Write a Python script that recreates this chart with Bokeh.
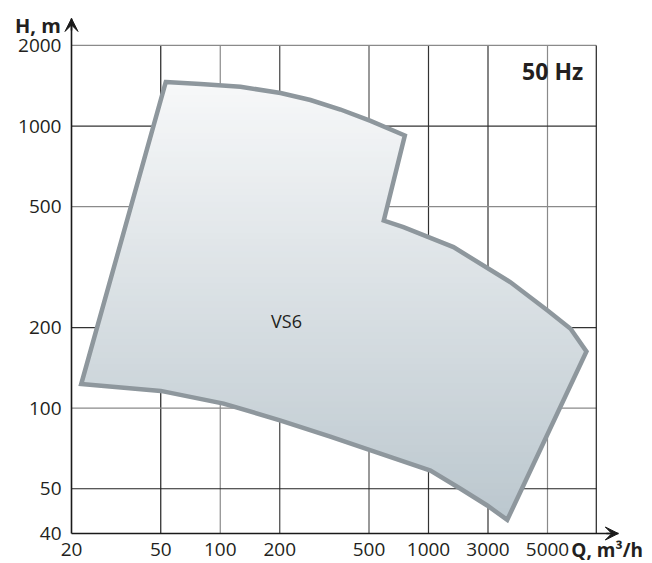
import numpy as np
from bokeh.plotting import figure
from bokeh.models import FixedTicker, Range1d, Label, Arrow, VeeHead, CustomJSTickFormatter
from bokeh.embed import file_html
from bokeh.resources import INLINE

# ---------------- data ----------------
Q_TICKS = [20, 50, 100, 200, 500, 1000, 3000, 5000]
Q_TICK_LABELS = ["20", "50", "100", "200", "500", "1000", "3000", "5000"]
H_TICKS = [40, 50, 100, 200, 500, 1000, 2000]
H_TICK_LABELS = ["40", "50", "100", "200", "500", "1000", "2000"]

# outline of the VS6 performance range (Q in m3/h, H in m), clockwise from top-left
VS6_Q = [53, 79.4, 126.6, 201.6, 274, 373, 509, 759, 594, 747, 1586, 3640, 4990, 6095, 6985,
         3538, 2958, 1806, 1037, 571, 336, 202, 104, 50, 22.1]
VS6_H = [1460, 1436, 1402, 1329, 1251, 1153, 1045, 922, 450, 428, 368, 282, 228, 198, 163,
         42.8, 46.0, 50, 58.5, 67.7, 78.3, 89.9, 104, 116, 123]
MODEL = "VS6"
FREQ = "50 Hz"
X_TITLE = "Q, m³/h"
Y_TITLE = "H, m"

# ---------------- layout (chart uses a non-uniform log grid) ----------------
Q_TICK_POS = [0, 1.5, 2.5, 3.5, 5, 6, 7, 8]
H_TICK_POS = [0, 0.555, 1.555, 2.555, 4.055, 5.055, 6.055]
X_EDGE = 8.82      # right border of the grid box
Y_EDGE = 6.055     # top border of the grid box (2000 m)
X_ARROW = 9.19
Y_ARROW = 6.39
W, H = 652, 563
X0_PX, Y0_PX, UX, UY = 71, 533, 59.5, 80.6


def scale_pos(vals, ticks, pos):
    lt = np.log10(np.asarray(ticks, float))
    pos = np.asarray(pos, float)
    lv = np.log10(np.asarray(vals, float))
    out = np.interp(lv, lt, pos)
    hi = lv > lt[-1]
    s_hi = (pos[-1] - pos[-2]) / (lt[-1] - lt[-2])
    out[hi] = pos[-1] + (lv[hi] - lt[-1]) * s_hi
    lo = lv < lt[0]
    s_lo = (pos[1] - pos[0]) / (lt[1] - lt[0])
    out[lo] = pos[0] + (lv[lo] - lt[0]) * s_lo
    return out


xs = scale_pos(VS6_Q, Q_TICKS, Q_TICK_POS)
ys = scale_pos(VS6_H, H_TICKS, H_TICK_POS)
poly = list(zip(xs, ys))


def clip_half(pts, inside, c):
    out = []
    n = len(pts)
    for i in range(n):
        cur = pts[i]
        prev = pts[i - 1]
        ci, pi = inside(cur), inside(prev)
        if ci:
            if not pi:
                t = (c - prev[1]) / (cur[1] - prev[1])
                out.append((prev[0] + t * (cur[0] - prev[0]), c))
            out.append(cur)
        elif pi:
            t = (c - prev[1]) / (cur[1] - prev[1])
            out.append((prev[0] + t * (cur[0] - prev[0]), c))
    return out


def band(pts, v0, v1):
    a = clip_half(pts, lambda p: p[1] >= v0, v0)
    if not a:
        return []
    return clip_half(a, lambda p: p[1] <= v1, v1)


top_c = np.array([0xf7, 0xf8, 0xf9], float)
bot_c = np.array([0xbb, 0xc7, 0xce], float)
vmin, vmax = min(ys), max(ys)
N = 70
edges = np.linspace(vmin, vmax, N + 1)
bxs, bys, bcols = [], [], []
for i in range(N):
    b = band(poly, edges[i] - 0.006, edges[i + 1] + 0.006)
    if len(b) < 3:
        continue
    t = ((edges[i] + edges[i + 1]) / 2 - vmin) / (vmax - vmin)
    col = bot_c + (top_c - bot_c) * t
    bxs.append([p[0] for p in b])
    bys.append([p[1] for p in b])
    bcols.append("#%02x%02x%02x" % tuple(int(round(c)) for c in col))

# ---------------- figure ----------------
p = figure(frame_width=W, frame_height=H, min_border=0,
           x_range=Range1d(-X0_PX / UX, (W - X0_PX) / UX),
           y_range=Range1d((Y0_PX - H) / UY, Y0_PX / UY),
           output_backend="svg", toolbar_location=None, tools="")
p.outline_line_color = None
p.xgrid.visible = False
p.ygrid.visible = False
p.background_fill_color = "white"
p.border_fill_color = "white"

FONT = "Open Sans"
TXT = "#231f20"

# grid lines
v_cols = ["#222222", "#8a8a8a", "#444444", "#555555", "#333333", "#333333", "#8a8a8a"]
h_cols = ["#222222", "#8a8a8a", "#333333", "#8a8a8a", "#333333", "#8a8a8a"]
gx = Q_TICK_POS[1:]
p.segment(x0=gx, y0=[0] * len(gx), x1=gx, y1=[Y_EDGE] * len(gx), line_color=v_cols, line_width=1.2)
gy = H_TICK_POS[1:]
p.segment(x0=[0] * len(gy), y0=gy, x1=[X_EDGE] * len(gy), y1=gy, line_color=h_cols, line_width=1.2)
p.segment(x0=[X_EDGE], y0=[0], x1=[X_EDGE], y1=[Y_EDGE], line_color="#222222", line_width=1.2)

# gradient fill
p.patches(xs=bxs, ys=bys, fill_color=bcols, line_color=None)
# outline
p.patch(x=list(xs), y=list(ys), fill_alpha=0, line_color="#8e979d", line_width=4.5, line_join="miter")

# axes (drawn at the data origin, inside the frame)
code = """
for (let i = 0; i < pos.length; i++) { if (Math.abs(pos[i] - tick) < 1e-6) return lab[i]; }
return "";
"""
fmt_x = CustomJSTickFormatter(args=dict(pos=Q_TICK_POS, lab=Q_TICK_LABELS), code=code)
fmt_y = CustomJSTickFormatter(args=dict(pos=H_TICK_POS, lab=H_TICK_LABELS), code=code)
for ax, tk, fm, bd in ((p.xaxis[0], Q_TICK_POS, fmt_x, (0, X_ARROW)),
                       (p.yaxis[0], H_TICK_POS, fmt_y, (0, Y_ARROW))):
    ax.fixed_location = 0
    ax.ticker = FixedTicker(ticks=tk)
    ax.formatter = fm
    ax.bounds = bd
    ax.minor_tick_line_color = None
    ax.major_tick_line_color = None
    ax.major_tick_out = 0
    ax.major_tick_in = 0
    ax.axis_line_color = "#1a1a1a"
    ax.axis_line_width = 1.6
    ax.major_label_text_font = FONT
    ax.major_label_text_font_size = "19px"
    ax.major_label_text_color = TXT
p.xaxis.major_label_standoff = 9
p.yaxis.major_label_standoff = 10

# arrow heads
p.add_layout(Arrow(end=VeeHead(size=13, fill_color="#1a1a1a", line_color="#1a1a1a"),
                   x_start=X_ARROW - 0.2, y_start=0, x_end=X_ARROW, y_end=0,
                   line_color="#1a1a1a", line_width=1.6))
p.add_layout(Arrow(end=VeeHead(size=13, fill_color="#1a1a1a", line_color="#1a1a1a"),
                   x_start=0, y_start=Y_ARROW - 0.15, x_end=0, y_end=Y_ARROW,
                   line_color="#1a1a1a", line_width=1.6))

# texts
p.add_layout(Label(x=-0.18, y=6.30, text=Y_TITLE, text_align="right", text_baseline="middle",
                   text_font=FONT, text_font_style="bold", text_font_size="20px", text_color=TXT))
p.add_layout(Label(x=8.40, y=-0.21, text=X_TITLE, text_align="left", text_baseline="middle",
                   text_font=FONT, text_font_style="bold", text_font_size="19px", text_color=TXT))
p.add_layout(Label(x=8.60, y=5.744, text=FREQ, text_align="right", text_baseline="middle",
                   text_font=FONT, text_font_style="bold", text_font_size="23px", text_color=TXT))
p.add_layout(Label(x=3.613, y=2.637, text=MODEL, text_align="center", text_baseline="middle",
                   text_font=FONT, text_font_size="18px", text_color=TXT))

open("out.html", "w").write(file_html(p, INLINE))
